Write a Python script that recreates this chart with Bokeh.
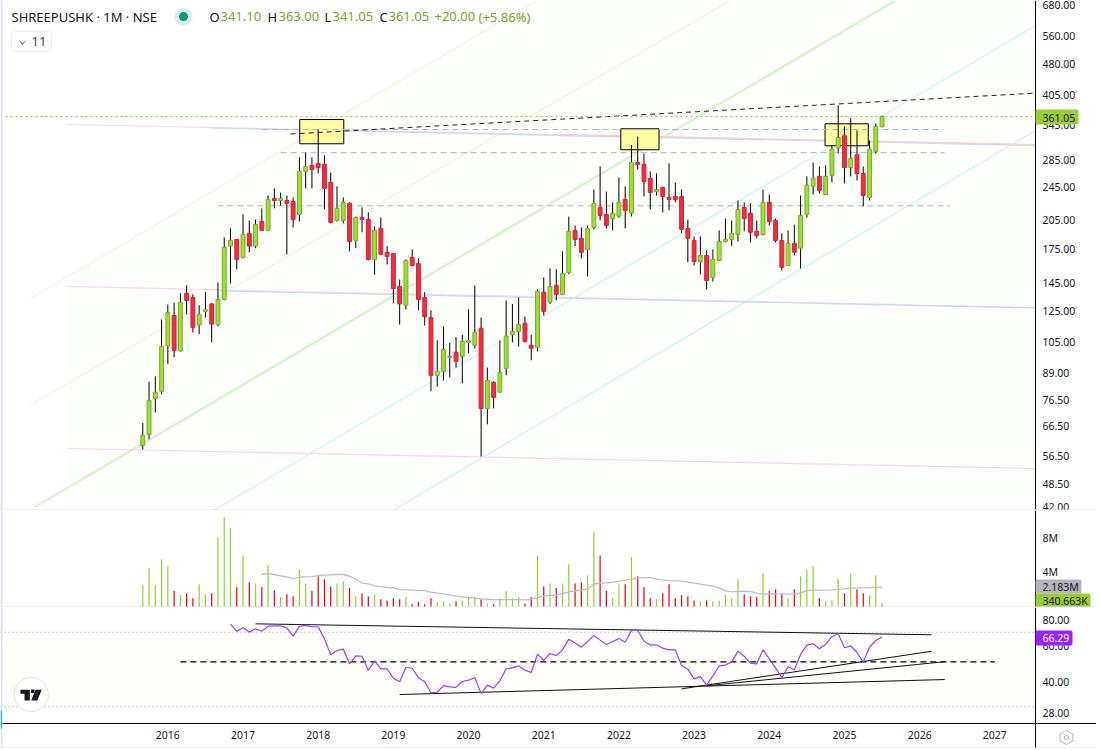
# SHREEPUSHK monthly chart: candles with drawings, volume pane and RSI pane

from bokeh.core.properties import value
from bokeh.embed import file_html
from bokeh.layouts import column
from bokeh.models import (BoxAnnotation, ColumnDataSource, FixedTicker, Label, PolyAnnotation,
                          PrintfTickFormatter, Range1d)
from bokeh.plotting import figure
from bokeh.resources import INLINE

# Monthly bars, Sep 2015 to Jul 2025
opens = [59.8, 63.5, 77.3, 80.4, 103, 121.7, 100.2, 137.4, 134.3, 115.5,
         124.4, 129.6, 115.8, 132.8, 177.8, 184.4, 167, 190.6, 177.8, 203.4,
         193.9, 230.6, 228.1, 228.1, 226.9, 211.4, 267.4, 276.3, 279.3, 277.9,
         251.8, 204.5, 204.5, 224.6, 183.4, 207.8, 205.6, 165.3, 195.8, 171.8,
         170.7, 142.6, 128.6, 167, 161.6, 134.3, 120.3, 87.7, 89.6, 96.9,
         99.5, 97.4, 105, 103.4, 113.4, 73.2, 84.4, 80, 91.1, 109.4,
         111.5, 116.7, 103.4, 102.2, 138.2, 130.9, 143.4, 136.6, 153.9, 193.7,
         185.4, 174.6, 196.9, 219.6, 211.4, 206.6, 209.3, 229.4, 212.8, 280.8,
         277.9, 257.3, 239.5, 245, 232, 233.1, 233.1, 195.8, 183.4, 163.5,
         168.9, 149.8, 164.4, 182.4, 184.4, 189.5, 219.6, 212.8, 192.7, 189.5,
         225.8, 204.5, 183.4, 160, 180.4, 175.8, 211.4, 246.4, 260.2, 235.6,
         261.6, 304, 325, 273.2, 293, 264.4, 232, 298.4, 341.1]
highs = [67.6, 84.8, 87.2, 119, 129.2, 130.3, 137.4, 143.4, 136.6, 128.6,
         138.2, 130.3, 145.7, 186.4, 195.8, 184.4, 211.4, 204.5, 205.6, 218.5,
         234.4, 243.6, 238.2, 234.4, 232, 288.7, 296.6, 288.7, 336.2, 292,
         265.8, 246.4, 232, 225.8, 209, 219.6, 213.7, 198, 207.8, 177.8,
         171, 148.1, 165.3, 174.6, 166.2, 138.2, 125.1, 106.2, 114.6, 104.9,
         108, 109.4, 125.8, 143.4, 120.3, 91.5, 85, 106.2, 132.1, 129.6,
         134.3, 121, 109.4, 140.3, 149.8, 157.3, 156.5, 172.7, 209, 198.9,
         196.9, 198.9, 242.2, 274.7, 239.5, 225.8, 258.8, 246.4, 308.8, 323.6,
         294.8, 267.4, 264.4, 246, 279.3, 251.8, 242.2, 205.6, 187.4, 187.4,
         173.6, 174.6, 193.7, 206.6, 204.5, 228.1, 225.8, 224.6, 204.5, 242.2,
         235.6, 206.6, 190.6, 193.7, 200, 234.4, 260.2, 280.8, 274.7, 276.3,
         308.8, 384, 342, 358, 334.4, 274.7, 316.6, 347.6, 363]
lows = [58.5, 61.8, 71.6, 79.1, 93.2, 96.9, 100, 122.4, 110.9, 109.9,
        120.3, 105, 114.6, 132.1, 144.9, 156.5, 166.2, 171.8, 175.8, 193.7,
        193.7, 218.5, 222, 169.8, 196.9, 203.4, 243.6, 243.6, 264.4, 217.2,
        201.2, 203.4, 201.2, 172.7, 175.8, 191.7, 164.4, 152, 169.8, 160.8,
        130.3, 115.8, 125.8, 159.1, 125.1, 115.2, 80.4, 82.5, 85.3, 86.7,
        91.5, 84, 99, 101.7, 56.3, 67.1, 73.2, 79.8, 87.7, 105,
        102.7, 104.9, 95.2, 100, 121.7, 129.6, 132.1, 136.4, 152.4, 177.8,
        166.2, 150.6, 194.8, 204.5, 195.8, 193.7, 207.5, 195.8, 209, 270.3,
        233.1, 217.2, 234.4, 213.7, 216, 225.8, 190.6, 162.7, 160, 152.4,
        140.3, 146.5, 164.4, 181.4, 177.8, 182.4, 192.7, 181.4, 185.4, 188.4,
        198.9, 181.4, 155.6, 159.8, 168.9, 157.3, 207.8, 235.6, 237, 235,
        251.8, 294.8, 250.4, 260.2, 254.5, 220.8, 228.1, 294.8, 341.05]
closes = [63.2, 76.5, 80, 102.7, 123.6, 100.5, 130.6, 132.1, 114, 122.4,
          125.6, 116.1, 132.8, 176.5, 183.4, 165.3, 189.5, 177.8, 200, 193.7,
          229.4, 228.1, 230.6, 224.6, 205.6, 267.4, 274.7, 270.3, 273.2, 243.6,
          202.4, 218.5, 225.8, 182.4, 207.8, 205.6, 165.3, 193.7, 170, 168.1,
          141, 129.6, 164.4, 160, 132.8, 121, 87.7, 89.6, 101, 97.4,
          94.7, 105.6, 106.2, 110.9, 73.2, 85.3, 77.8, 89.1, 108.7, 111.5,
          115.8, 105.6, 101.7, 138.9, 124.4, 142.6, 136.6, 153, 192.7, 184.4,
          171.8, 195.8, 224.6, 210.2, 198.9, 212.8, 225.8, 216, 280.8, 277.9,
          253.2, 238.2, 242.2, 233.1, 229.4, 229.4, 194.8, 185.4, 163.5, 168.9,
          147.3, 165.3, 182.4, 184.4, 190.6, 217.2, 206.6, 191.7, 188.4, 225.8,
          203.4, 183.4, 158.3, 180.4, 171.8, 210.2, 248, 257.3, 240.9, 260.2,
          302.2, 322, 273.2, 286.9, 264.4, 234.4, 302.2, 342, 361.05]

# Volume in millions
volumes = [2.48, 4.48, 2.48, 5.53, 4.68, 1.78, 1.28, 1.53, 0.93, 2.58,
           1.38, 1.53, 8.08, 10.48, 9.18, 2.23, 5.98, 2.83, 2.68, 2.23,
           4.83, 1.88, 1.08, 1.38, 1.18, 4.33, 2.68, 1.78, 3.53, 3.18,
           2.33, 2.68, 2.93, 2.13, 1.18, 1.53, 1.18, 1.38, 0.83, 0.68,
           0.93, 0.83, 1.08, 0.23, 0.48, 0.23, 0.93, 0.48, 0.58, 0.33,
           0.58, 0.68, 1.08, 1.08, 0.83, 0.33, 0.23, 0.93, 1.78, 0.93,
           1.08, 0.33, 1.08, 5.98, 2.33, 2.68, 2.13, 2.68, 4.93, 2.68,
           2.83, 3.63, 8.68, 5.98, 1.78, 0.93, 2.58, 2.58, 5.78, 3.53,
           2.23, 0.93, 0.83, 1.53, 2.58, 0.93, 1.28, 1.18, 0.68, 0.58,
           0.68, 0.58, 0.68, 1.38, 0.93, 3.18, 1.38, 1.18, 1.08, 3.88,
           1.78, 1.98, 1.38, 0.93, 1.98, 3.53, 4.33, 4.68, 0.93, 0.58,
           0.68, 3.18, 1.53, 3.88, 1.98, 1.53, 1.28, 3.63, 0.34]

# Volume average, starts at bar 19
vol_ma_start = 19
vol_ma = [3.76, 3.84, 3.73, 3.57, 3.45, 3.25, 3.41, 3.45, 3.49, 3.61,
          3.65, 3.69, 3.73, 3.73, 3.53, 3.14, 2.71, 2.63, 2.39, 2.31,
          2.2, 2.16, 1.96, 1.92, 1.92, 1.84, 1.84, 1.65, 1.53, 1.45,
          1.33, 1.18, 1.1, 1.02, 0.94, 0.86, 0.82, 0.78, 0.78, 0.78,
          0.78, 0.78, 0.75, 0.82, 1.02, 1.18, 1.29, 1.33, 1.45, 1.69,
          1.8, 1.88, 2, 2.59, 2.71, 2.75, 2.82, 2.94, 3.06, 3.18,
          3.33, 3.37, 3.37, 3.18, 3.1, 3.02, 2.98, 2.94, 2.82, 2.71,
          2.59, 2.47, 2.35, 2.16, 1.8, 1.69, 1.76, 1.76, 1.73, 1.53,
          1.41, 1.41, 1.45, 1.45, 1.41, 1.41, 1.57, 1.84, 1.88, 1.88,
          1.88, 1.92, 2, 2.04, 2.12, 2.16, 2.16, 2.16, 2.24, 2.183]

# RSI, starts at bar 14
rsi_start = 14
rsi = [76.7, 70.9, 73.6, 70.1, 72.8, 70.9, 75, 75.3, 75.3, 73.6,
       67, 74.8, 75.6, 74.5, 74.5, 64.9, 54.2, 56.9, 57.8, 48.9,
       53.5, 53.3, 45.3, 50.6, 46.2, 46.2, 41.5, 39.9, 46.9, 46.5,
       41.8, 39.9, 35.2, 35.4, 38.2, 37.6, 37.4, 40, 40.6, 41.8,
       34.9, 38.4, 37.1, 40.3, 46.2, 46.7, 47.8, 45.5, 44.3, 54.6,
       50.8, 55, 53.7, 57.3, 64.7, 62, 59.1, 63, 67.5, 64,
       60.9, 63, 65.2, 62.5, 71.4, 71.4, 63.2, 60.5, 60.7, 58.4,
       57.3, 57.3, 48, 46, 41.2, 42.3, 38.4, 42.6, 47.8, 48.2,
       50, 56.5, 53.3, 49.3, 48.9, 57.3, 51.7, 46.7, 41.8, 47.3,
       45.7, 54.4, 60.5, 61.4, 58, 60.9, 66.7, 68.8, 58.7, 60,
       55.6, 49.8, 59.1, 63.7, 66.29]

# Axis labels
year_labels = ["2016", "2017", "2018", "2019", "2020", "2021", "2022", "2023", "2024", "2025", "2026", "2027"]
year_bars = [4, 16, 28, 40, 52, 64, 76, 88, 100, 112, 124, 136]
price_ticks = [680, 560, 480, 405, 345, 285, 245, 205, 175, 145, 125, 105, 89, 76.5, 66.5, 56.5, 48.5, 42]
volume_ticks = [4, 8]
rsi_ticks = [28, 40, 60, 80]

# Drawings as (bar, price, bar, price)
fan_green = [(-17.9, 133.5, 62.7, 680), (-17.9, 74.7, 93.8, 680)]
fan_green_thick = [(-17.2, 42.7, 120.1, 680)]
fan_cyan = [(11.3, 41.9, 142.5, 593.6), (39.9, 41.9, 142.5, 334.4)]
pink_lines = [(-12, 345.6, 142.5, 309.8), (-12, 142.6, 142.5, 127.1), (-12, 58.8, 142.5, 52.7)]
blue_lines = [(10.8, 339, 142.5, 308), (12.4, 139.1, 142.5, 126.8)]
salmon_lines = [(66.7, 327.2, 142.5, 309)]
grey_levels = [(19.1, 336.2, 127.8, 336.2), (22, 296.2, 128, 296.2), (11.9, 221.6, 128.8, 221.6)]
black_trend = [(23.6, 328.1, 142.5, 410.2)]
last_price_line = [(-22.71, 361.05, 142.49, 361.05)]
box_left = [25.06, 76.3, 108.9]
box_right = [32.08, 82.4, 115.8]
box_top = [355.1, 337.6, 346.9]
box_bottom = [311, 301, 307.6]

# RSI trend lines as (bar, rsi, bar, rsi)
rsi_trends = [(18, 77, 125.9, 68), (41, 34.5, 128, 40.9), (86, 36.8, 125.9, 56.4), (90, 38.1, 128, 50.1)]
rsi_mid = [(6, 50, 136, 50)]
rsi_bands = [(-22.71, 70, 142.49, 70), (-22.71, 30, 142.49, 30)]

FONT = "Noto Sans"
TEXT = "#131722"
GREEN_VAL = "#6fa82a"
AXIS_BAR = 142.49  # the price scale sits here, its labels are to the right of it
x_range = Range1d(-22.71, 152.23)


def pane(height, y_range, y_type="linear", with_time=False):
    p = figure(width=1096, height=height, x_range=x_range, y_range=y_range, y_axis_type=y_type,
               y_axis_location="right", x_axis_location="below" if with_time else None,
               toolbar_location=None, output_backend="svg", min_border=0, outline_line_color=None)
    p.grid.visible = False
    p.yaxis.fixed_location = AXIS_BAR
    p.yaxis.axis_line_color = "black"
    p.yaxis.major_tick_line_color = None
    p.yaxis.minor_tick_line_color = None
    p.yaxis.major_label_text_color = TEXT
    p.yaxis.major_label_text_font = FONT
    p.yaxis.major_label_text_font_size = "10.5px"
    p.yaxis.major_label_standoff = 1
    return p


def draw(p, lines, color, width=1, dash=None):
    p.segment([l[0] for l in lines], [l[1] for l in lines], [l[2] for l in lines], [l[3] for l in lines],
              line_color=color, line_width=width, line_dash=value(dash) if dash else "solid")


def text(p, s, x, y, color=TEXT, size="13px"):
    p.add_layout(Label(x=x, y=y, x_units="canvas", y_units="canvas", text=s, text_color=color,
                       text_font=FONT, text_font_size=size, text_baseline="middle", level="overlay"))


def box(p, left, right, top, bottom, color, line=None, radius=0):
    p.add_layout(BoxAnnotation(left=left, right=right, top=top, bottom=bottom, left_units="canvas",
                               right_units="canvas", top_units="canvas", bottom_units="canvas",
                               fill_color=color, fill_alpha=1, line_color=line, border_radius=radius,
                               level="annotation", editable=False))


def poly(p, xs, ys, fill=None, line=None):
    p.add_layout(PolyAnnotation(xs=xs, ys=ys, xs_units="canvas", ys_units="canvas", fill_color=fill,
                                fill_alpha=1 if fill else 0, line_color=line, level="overlay"))


bars = list(range(len(closes)))
up = [i for i in bars if closes[i] >= opens[i]]
down = [i for i in bars if closes[i] < opens[i]]

# Price pane
p1 = pane(510, Range1d(41.9, 680.6), "log")
p1.yaxis.ticker = FixedTicker(ticks=price_ticks)
p1.yaxis.formatter = PrintfTickFormatter(format="%.2f")
p1.patch([-12, 62.7, 142.49, 142.49, -12], [150.6, 680.6, 680.6, 41.9, 41.9], fill_color="#fcfef9", line_color=None)

draw(p1, fan_green, "#e7f3d4")
draw(p1, fan_green_thick, "#dcf2d2", 2.5)
draw(p1, fan_cyan, "#d3f1f1", 1.2)
draw(p1, pink_lines, "#fad9f0", 1.2)
draw(p1, blue_lines, "#c3daf6", 1.2)
draw(p1, salmon_lines, "#f7cfcb", 1.2)
p1.quad(left=box_left, right=box_right, top=box_top, bottom=box_bottom, fill_color="#fdfca0", line_color="black")
draw(p1, grey_levels, "#b2b5be", 1, [6, 4])
draw(p1, black_trend, "#222222", 1, [5, 4])
draw(p1, last_price_line, "#9acd32", 1.2, [2, 3])

p1.segment(bars, highs, bars, lows, line_color="black", line_width=1)
up_src = ColumnDataSource(dict(x=up, top=[closes[i] for i in up], bottom=[opens[i] for i in up]))
down_src = ColumnDataSource(dict(x=down, top=[opens[i] for i in down], bottom=[closes[i] for i in down]))
p1.vbar(x="x", top="top", bottom="bottom", width=0.62, source=up_src, fill_color="#9ee02c", line_color="#78a832")
p1.vbar(x="x", top="top", bottom="bottom", width=0.62, source=down_src, fill_color="#f42c40", line_color="#d8203a")

# Header texts and the small legend button
p1.scatter([6.5], [623.3], size=18, fill_color="#daf0ec", line_color=None)
p1.scatter([6.5], [623.3], size=9, fill_color="#089981", line_color=None)
text(p1, "SHREEPUSHK · 1M · NSE", 11, 16)
for s, x, c in [("O", 209, TEXT), ("341.10", 220, GREEN_VAL), ("H", 267, TEXT), ("363.00", 278, GREEN_VAL),
                ("L", 324, TEXT), ("341.05", 332, GREEN_VAL), ("C", 379, TEXT), ("361.05", 388, GREEN_VAL),
                ("+20.00", 434, GREEN_VAL), ("(+5.86%)", 478, GREEN_VAL)]:
    text(p1, s, x, 16, c)
box(p1, 11, 51, 31, 51, "white", "#c8cbd4", 3)
poly(p1, [18, 22, 26, 22], [39, 43, 39, 44.5], fill="#434651")
text(p1, "11", 31, 41, "#434651")
box(p1, 1035, 1078, 109, 124, "#9acd32", radius=2)
text(p1, "361.05", 1042, 117, TEXT, "10.5px")
box(p1, 0, 2, 0, 510, "#e0e3eb")
box(p1, 0, 1096, 510, 509, "#e0e3eb")

# Volume pane
p2 = pane(97, Range1d(-0.153, 11.26))
p2.yaxis.ticker = FixedTicker(ticks=volume_ticks)
p2.yaxis.major_label_overrides = {t: "%dM" % t for t in volume_ticks}
p2.vbar(x=up, top=[volumes[i] for i in up], bottom=-0.153, width=0.2, fill_color="#94d332", line_color=None)
p2.vbar(x=down, top=[volumes[i] for i in down], bottom=-0.153, width=0.2, fill_color="#f0060f", line_color=None)
p2.line(list(range(vol_ma_start, vol_ma_start + len(vol_ma))), vol_ma, line_color="#bdbdc8", line_width=1.3)
box(p2, 1035, 1081, 69, 83, "#b2b5be", radius=2)
text(p2, "2.183M", 1042, 76, TEXT, "10.5px")
box(p2, 1035, 1090, 83, 97, "#9acd32", radius=2)
text(p2, "340.663K", 1042, 90, TEXT, "10.5px")
box(p2, 0, 2, 0, 97, "#e0e3eb")
box(p2, 0, 1096, 97, 96, "#e0e3eb")

# RSI pane
p3 = pane(141, Range1d(18.69, 92.7), "log", with_time=True)
p3.yaxis.ticker = FixedTicker(ticks=rsi_ticks)
p3.yaxis.formatter = PrintfTickFormatter(format="%.2f")
p3.add_layout(BoxAnnotation(left=-22.71, right=AXIS_BAR, top=70, bottom=30, fill_color="#fffefa", fill_alpha=1,
                            line_color=None, level="underlay"))
draw(p3, rsi_bands, "#9598a1", 1, [1, 3])
draw(p3, rsi_mid, "black", 1.2, [6, 4])
draw(p3, rsi_trends, "#111111", 1)
p3.line(list(range(rsi_start, rsi_start + len(rsi))), rsi, line_color="#a23cf6", line_width=1.2)
p3.xaxis.fixed_location = 24.8
p3.xaxis.ticker = FixedTicker(ticks=year_bars)
p3.xaxis.major_label_overrides = dict(zip(year_bars, year_labels))
p3.xaxis.axis_line_color = "black"
p3.xaxis.major_tick_line_color = None
p3.xaxis.minor_tick_line_color = None
p3.xaxis.major_label_text_color = TEXT
p3.xaxis.major_label_text_font = FONT
p3.xaxis.major_label_text_font_size = "10.5px"
p3.xaxis.major_label_standoff = 1
box(p3, 1035, 1072, 23, 38, "#9c1fff", radius=2)
text(p3, "66.29", 1042, 30, "white", "10.5px")
box(p3, 0, 2, 0, 141, "#e0e3eb")
box(p3, 0, 1.5, 103, 121, "#29b6f6")
box(p3, 0, 1096, 141, 140, "#e0e3eb")

# TradingView badge and the settings icon
p3.scatter([-17.8], [34.5], size=34, fill_color="white", line_color="#e0e3eb")
poly(p3, [20, 29.3, 29.3, 24, 24, 20], [82.3, 82.3, 93, 93, 86.3, 86.3], fill=TEXT)
poly(p3, [30.7, 34, 34, 30.7], [82, 82, 85.4, 85.4], fill=TEXT)
poly(p3, [35, 41.3, 36.7, 30.7], [82.3, 82.3, 93, 93], fill=TEXT)
poly(p3, [1066, 1072.5, 1072.5, 1066, 1059.5, 1059.5], [123, 126.5, 133.5, 137, 133.5, 126.5], line=TEXT)
poly(p3, [1066, 1068, 1068, 1066, 1064, 1064], [128, 129, 131, 132, 131, 129], line=TEXT)

layout = column(p1, p2, p3, spacing=0)

open("out.html", "w").write(file_html(layout, INLINE))
